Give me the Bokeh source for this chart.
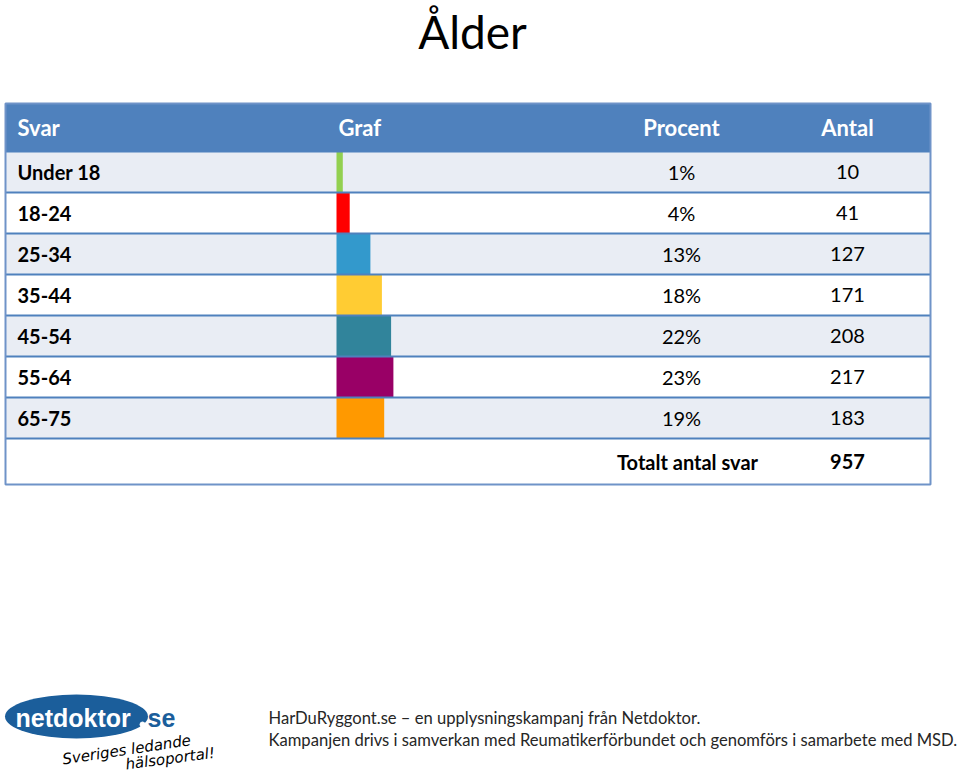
from bokeh.plotting import figure
from bokeh.models import Range1d
from bokeh.core.properties import value
from bokeh.embed import file_html
from bokeh.resources import INLINE

# ---- data ----
title = "Ålder"
headers = ["Svar", "Graf", "Procent", "Antal"]
categories = ["Under 18", "18-24", "25-34", "35-44", "45-54", "55-64", "65-75"]
percent = [1, 4, 13, 18, 22, 23, 19]
counts = [10, 41, 127, 171, 208, 217, 183]
bar_colors = ["#92D050", "#FF0000", "#3399CC", "#FFCC33", "#31849B", "#990066", "#FF9900"]
total_label = "Totalt antal svar"
total = 957
footer_lines = ["HarDuRyggont.se – en upplysningskampanj från Netdoktor.",
                "Kampanjen drivs i samverkan med Reumatikerförbundet och genomförs i samarbete med MSD."]

FONT = value("Lato")
BLUE = "#4F81BD"
LIGHT = "#E9EDF4"

W, H = 960, 773
p = figure(width=W, height=H, x_range=Range1d(0, W), y_range=Range1d(H, 0),
           output_backend="svg", toolbar_location=None, min_border=0)
p.xaxis.visible = False
p.yaxis.visible = False
p.grid.visible = False
p.outline_line_color = None
p.background_fill_color = "white"
p.border_fill_color = "white"

# title
p.text(x=[472], y=[31], text=[title], text_font=FONT, text_font_size="46px",
       text_align="center", text_baseline="middle", text_color="black")

# table geometry
L, R = 5, 930
head_top, head_bot = 103, 151
row_h = 41
n = len(categories)
row_tops = [head_bot + i * row_h for i in range(n)]
row_bots = [t + row_h for t in row_tops]
total_top = row_bots[-1]
total_bot = 484
col_svar = 17
col_graf = 338
col_pct = 681
col_ant = 847

# header
p.quad(left=[L], right=[R], top=[head_top], bottom=[head_bot], fill_color=BLUE, line_color=None)
p.text(x=[col_svar, col_graf], y=[127, 127], text=headers[:2], text_font=FONT, text_font_size="22px",
       text_font_style="bold", text_color="white", text_align="left", text_baseline="middle")
p.text(x=[col_pct, col_ant], y=[127, 127], text=headers[2:], text_font=FONT, text_font_size="22px",
       text_font_style="bold", text_color="white", text_align="center", text_baseline="middle")

# row fills
fills = [LIGHT if i % 2 == 0 else "white" for i in range(n)]
p.quad(left=[L] * n, right=[R] * n, top=row_tops, bottom=row_bots, fill_color=fills, line_color=None)

# bars
bar_x0 = 336
bar_scale = 2.3
bar_right = [bar_x0 + 4 + bar_scale * v for v in percent]
p.quad(left=[bar_x0] * n, right=bar_right, top=row_tops, bottom=row_bots,
       fill_color=bar_colors, line_color=None)

# separators
ys = [head_bot] + row_bots
p.segment(x0=[L] * len(ys), x1=[R] * len(ys), y0=ys, y1=ys, line_color=BLUE, line_width=2)
# outer border
p.quad(left=[L], right=[R], top=[head_top], bottom=[total_bot], fill_color=None,
       line_color="#6F93C8", line_width=2)

# text in rows
mids = [(t + b) / 2 for t, b in zip(row_tops, row_bots)]
p.text(x=[col_svar] * n, y=mids, text=categories, text_font=FONT, text_font_size="20px",
       text_font_style="bold", text_color="black", text_align="left", text_baseline="middle")
p.text(x=[col_pct] * n, y=mids, text=[f"{v}%" for v in percent], text_font=FONT, text_font_size="20px",
       text_color="black", text_align="center", text_baseline="middle")
p.text(x=[col_ant] * n, y=mids, text=[str(c) for c in counts], text_font=FONT, text_font_size="20px",
       text_color="black", text_align="center", text_baseline="middle")

# total row
tmid = (total_top + total_bot) / 2
p.text(x=[687, col_ant], y=[tmid, tmid], text=[total_label, str(total)], text_font=FONT,
       text_font_size="20px", text_font_style="bold", text_color="black",
       text_align="center", text_baseline="middle")

# logo
p.ellipse(x=[76], y=[716], width=[143], height=[44], fill_color="#1B5E9B", line_color=None)
p.text(x=[15], y=[717], text=["netdoktor"], text_font=value("Liberation Sans"), text_font_size="25px",
       text_font_style="bold", text_color="white", text_align="left", text_baseline="middle")
p.scatter(x=[142], y=[724], size=5, color="white")
p.text(x=[147], y=[717], text=["se"], text_font=value("Liberation Sans"), text_font_size="25px",
       text_font_style="bold", text_color="#1B5E9B", text_align="left", text_baseline="middle")
p.text(x=[62], y=[759], text=["Sveriges ledande"], text_font=value("DejaVu Sans"), text_font_size="15px",
       text_font_style="italic", text_color="black", text_align="left", text_baseline="alphabetic", angle=0.15)
p.text(x=[125], y=[764], text=["hälsoportal!"], text_font=value("DejaVu Sans"), text_font_size="15px",
       text_font_style="italic", text_color="black", text_align="left", text_baseline="alphabetic", angle=0.13)

# footer
p.text(x=[268, 268], y=[717, 739], text=footer_lines, text_font=FONT, text_font_size="16.6px",
       text_color="#262626", text_align="left", text_baseline="middle")

open("out.html", "w").write(file_html(p, INLINE))
